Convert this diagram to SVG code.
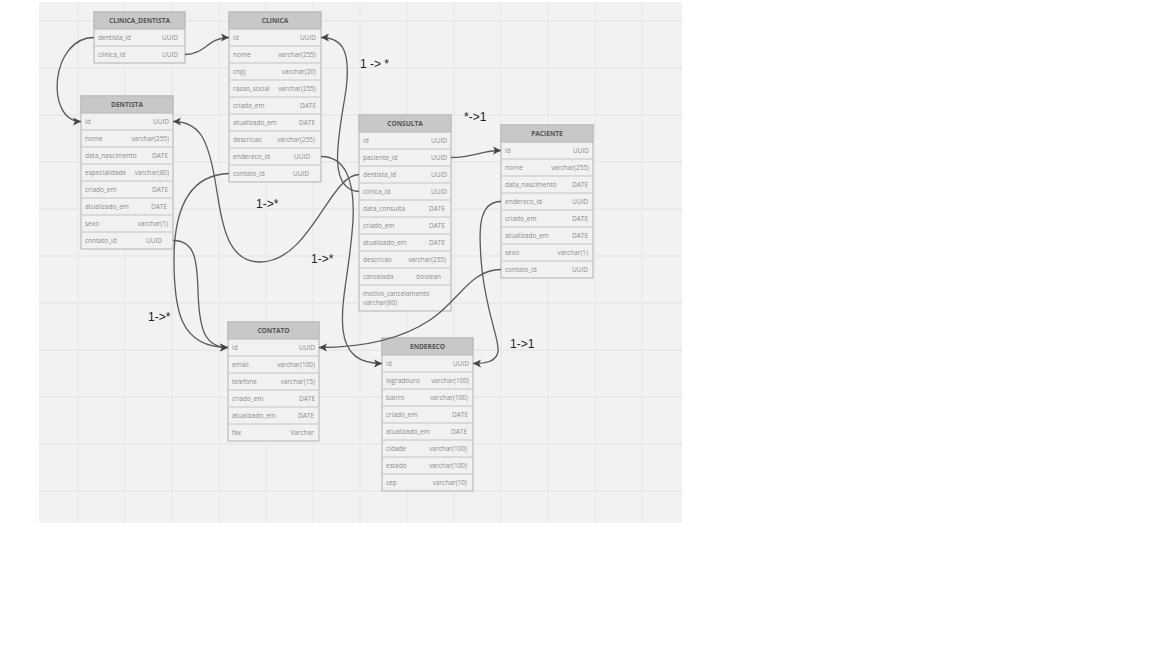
<svg xmlns="http://www.w3.org/2000/svg" width="1152" height="648" viewBox="0 0 1152 648">
<defs>
<style>
.bg{fill:#f2f2f2}
.grid{stroke:#e8e8e8;stroke-width:1.3;fill:none}
.body{fill:#f1f1f1;stroke:#bdbdbd;stroke-width:1.2}
.hdr{fill:#c8c8c8;stroke:#bdbdbd;stroke-width:1.2}
.sep{stroke:#d2d2d2;stroke-width:1.5}
.h{font-family:"Open Sans","Liberation Sans",sans-serif;font-size:6.6px;font-weight:bold;fill:#555;text-anchor:middle}
.c{font-family:"Open Sans","Liberation Sans",sans-serif;font-size:6.5px;fill:#8c8c8c}
.r{font-family:"Open Sans","Liberation Sans",sans-serif;font-size:6.5px;fill:#8c8c8c;text-anchor:end}
.lbl{font-family:"Liberation Sans","DejaVu Sans",sans-serif;font-size:12px;fill:#222}
.conn{fill:none;stroke:#5a5a5a;stroke-width:1.3}
</style>
<marker id="arr" markerUnits="userSpaceOnUse" markerWidth="10" markerHeight="10" viewBox="0 0 10 10" refX="9" refY="5" orient="auto">
<path d="M1,1 L9,5 L1,9 L3,5 Z" fill="#444"/>
</marker>
</defs>
<rect class="bg" x="39" y="2" width="643" height="521"/>
<path class="grid" d="M78,2V523M125,2V523M172,2V523M219,2V523M266,2V523M313,2V523M360,2V523M407,2V523M454,2V523M501,2V523M548,2V523M595,2V523M642,2V523M39,21H682M39,68H682M39,115H682M39,162H682M39,209H682M39,256H682M39,303H682M39,350H682M39,397H682M39,444H682M39,491H682"/>

<g id="clinica_dentista" transform="translate(94,12)">
<rect class="body" x="0" y="0" width="91" height="51"/>
<rect class="hdr" x="0" y="0" width="91" height="17"/>
<text class="h" x="45.5" y="11">CLINICA_DENTISTA</text>
<line class="sep" x1="1" y1="34" x2="90" y2="34"/>
<text class="c" x="4" y="28">dentista_id</text><text class="r" x="84" y="28">UUID</text>
<text class="c" x="4" y="45">clinica_id</text><text class="r" x="84" y="45">UUID</text>
</g>

<g id="clinica" transform="translate(229,12)">
<rect class="body" x="0" y="0" width="92" height="170"/>
<rect class="hdr" x="0" y="0" width="92" height="17"/>
<text class="h" x="46" y="11">CLINICA</text>
<path class="sep" d="M1,34H91M1,51H91M1,68H91M1,85H91M1,102H91M1,119H91M1,136H91M1,153H91"/>
<text class="c" x="4" y="28">id</text><text class="r" x="87" y="28">UUID</text>
<text class="c" x="4" y="45">nome</text><text class="r" x="87" y="45">varchar(255)</text>
<text class="c" x="4" y="62">cnpj</text><text class="r" x="87" y="62">varchar(20)</text>
<text class="c" x="4" y="79">razao_social</text><text class="r" x="87" y="79">varchar(255)</text>
<text class="c" x="4" y="96">criado_em</text><text class="r" x="87" y="96">DATE</text>
<text class="c" x="4" y="113">atualizado_em</text><text class="r" x="86" y="113">DATE</text>
<text class="c" x="4" y="130">descricao</text><text class="r" x="86" y="130">varchar(255)</text>
<text class="c" x="4" y="147">endereco_id</text><text class="r" x="81" y="147">UUID</text>
<text class="c" x="4" y="164">contato_id</text><text class="r" x="80" y="164">UUID</text>
</g>

<g id="dentista" transform="translate(81,96)">
<rect class="body" x="0" y="0" width="92" height="153"/>
<rect class="hdr" x="0" y="0" width="92" height="17"/>
<text class="h" x="46" y="11">DENTISTA</text>
<path class="sep" d="M1,34H91M1,51H91M1,68H91M1,85H91M1,102H91M1,119H91M1,136H91"/>
<text class="c" x="4" y="28">id</text><text class="r" x="88" y="28">UUID</text>
<text class="c" x="4" y="45">nome</text><text class="r" x="88" y="45">varchar(255)</text>
<text class="c" x="4" y="62">data_nascimento</text><text class="r" x="87" y="62">DATE</text>
<text class="c" x="4" y="79">especialidade</text><text class="r" x="88" y="79">varchar(80)</text>
<text class="c" x="4" y="96">criado_em</text><text class="r" x="87" y="96">DATE</text>
<text class="c" x="4" y="113">atualizado_em</text><text class="r" x="86" y="113">DATE</text>
<text class="c" x="4" y="130">sexo</text><text class="r" x="87" y="130">varchar(1)</text>
<text class="c" x="4" y="147">contato_id</text><text class="r" x="81" y="147">UUID</text>
</g>

<g id="consulta" transform="translate(359,115)">
<rect class="body" x="0" y="0" width="92" height="196"/>
<rect class="hdr" x="0" y="0" width="92" height="17"/>
<text class="h" x="46" y="11">CONSULTA</text>
<path class="sep" d="M1,34H91M1,51H91M1,68H91M1,85H91M1,102H91M1,119H91M1,136H91M1,153H91M1,170H91"/>
<text class="c" x="4" y="28">id</text><text class="r" x="88" y="28">UUID</text>
<text class="c" x="4" y="45">paciente_id</text><text class="r" x="88" y="45">UUID</text>
<text class="c" x="4" y="62">dentista_id</text><text class="r" x="88" y="62">UUID</text>
<text class="c" x="4" y="79">clinica_id</text><text class="r" x="88" y="79">UUID</text>
<text class="c" x="4" y="96">data_consulta</text><text class="r" x="86" y="96">DATE</text>
<text class="c" x="4" y="113">criado_em</text><text class="r" x="86" y="113">DATE</text>
<text class="c" x="4" y="130">atualizado_em</text><text class="r" x="86" y="130">DATE</text>
<text class="c" x="4" y="147">descricao</text><text class="r" x="87" y="147">varchar(255)</text>
<text class="c" x="4" y="164">cancelada</text><text class="r" x="82" y="164">boolean</text>
<text class="c" x="4" y="181">motivo_cancelamento</text>
<text class="c" x="4" y="190">varchar(80)</text>
</g>

<g id="paciente" transform="translate(501,125)">
<rect class="body" x="0" y="0" width="92" height="153"/>
<rect class="hdr" x="0" y="0" width="92" height="17"/>
<text class="h" x="46" y="11">PACIENTE</text>
<path class="sep" d="M1,34H91M1,51H91M1,68H91M1,85H91M1,102H91M1,119H91M1,136H91"/>
<text class="c" x="4" y="28">id</text><text class="r" x="88" y="28">UUID</text>
<text class="c" x="4" y="45">nome</text><text class="r" x="88" y="45">varchar(255)</text>
<text class="c" x="4" y="62">data_nascimento</text><text class="r" x="87" y="62">DATE</text>
<text class="c" x="4" y="79">endereco_id</text><text class="r" x="87" y="79">UUID</text>
<text class="c" x="4" y="96">criado_em</text><text class="r" x="87" y="96">DATE</text>
<text class="c" x="4" y="113">atualizado_em</text><text class="r" x="87" y="113">DATE</text>
<text class="c" x="4" y="130">sexo</text><text class="r" x="87" y="130">varchar(1)</text>
<text class="c" x="4" y="147">contato_id</text><text class="r" x="87" y="147">UUID</text>
</g>

<g id="contato" transform="translate(228,322)">
<rect class="body" x="0" y="0" width="91" height="119"/>
<rect class="hdr" x="0" y="0" width="91" height="17"/>
<text class="h" x="45.5" y="11">CONTATO</text>
<path class="sep" d="M1,34H90M1,51H90M1,68H90M1,85H90M1,102H90"/>
<text class="c" x="4" y="28">id</text><text class="r" x="87" y="28">UUID</text>
<text class="c" x="4" y="45">email</text><text class="r" x="87" y="45">varchar(100)</text>
<text class="c" x="4" y="62">telefone</text><text class="r" x="87" y="62">varchar(15)</text>
<text class="c" x="4" y="79">criado_em</text><text class="r" x="87" y="79">DATE</text>
<text class="c" x="4" y="96">atualizado_em</text><text class="r" x="86" y="96">DATE</text>
<text class="c" x="4" y="113">fax</text><text class="r" x="86" y="113">Varchar</text>
</g>

<g id="endereco" transform="translate(382,338)">
<rect class="body" x="0" y="0" width="91" height="153"/>
<rect class="hdr" x="0" y="0" width="91" height="17"/>
<text class="h" x="45.5" y="11">ENDERECO</text>
<path class="sep" d="M1,34H90M1,51H90M1,68H90M1,85H90M1,102H90M1,119H90M1,136H90"/>
<text class="c" x="4" y="28">id</text><text class="r" x="87" y="28">UUID</text>
<text class="c" x="4" y="45">logradouro</text><text class="r" x="87" y="45">varchar(100)</text>
<text class="c" x="4" y="62">bairro</text><text class="r" x="86" y="62">varchar(100)</text>
<text class="c" x="4" y="79">criado_em</text><text class="r" x="86" y="79">DATE</text>
<text class="c" x="4" y="96">atualizado_em</text><text class="r" x="85" y="96">DATE</text>
<text class="c" x="4" y="113">cidade</text><text class="r" x="85" y="113">varchar(100)</text>
<text class="c" x="4" y="130">estado</text><text class="r" x="85" y="130">varchar(100)</text>
<text class="c" x="4" y="147">cep</text><text class="r" x="85" y="147">varchar(10)</text>
</g>

<g id="connectors">
<path class="conn" marker-end="url(#arr)" d="M94,37.5 C50,37.5 45,121.5 81,121.5"/>
<path class="conn" marker-end="url(#arr)" d="M185,54.5 C205,54.5 208,37.5 229,37.5"/>
<path class="conn" marker-end="url(#arr)" d="M359,191.5 C325,190 340,130 346,90 C351,50 342,37.5 321,37.5"/>
<path class="conn" marker-end="url(#arr)" d="M359,174.5 C330,174.5 310,262 260,262 C225,262 222,220 215,180 C208,140 200,121.5 173,121.5"/>
<path class="conn" marker-end="url(#arr)" d="M229,173.5 C185,175 174,215 174,260 C174,310 180,347.5 228,347.5"/>
<path class="conn" marker-end="url(#arr)" d="M173,240.5 C195,240.5 197,260 198,290 C199,330 205,347.5 228,347.5"/>
<path class="conn" marker-end="url(#arr)" d="M501,269.5 C470,269.5 460,300 430,320 C400,340 360,347.5 319,347.5"/>
<path class="conn" marker-end="url(#arr)" d="M321,156.5 C345,156.5 355,180 353,220 C350,270 340,300 343,330 C346,355 360,363.5 382,363.5"/>
<path class="conn" marker-end="url(#arr)" d="M451,157.5 C475,157.5 480,150.5 501,150.5"/>
<path class="conn" marker-end="url(#arr)" d="M501,201.5 C478,201.5 478,230 482,270 C488,320 500,340 498,352 C496,362 485,363.5 473,363.5"/>
<text class="lbl" x="360" y="68">1 -&gt; *</text>
<text class="lbl" x="464" y="121">*-&gt;1</text>
<text class="lbl" x="256" y="208">1-&gt;*</text>
<text class="lbl" x="311" y="263">1-&gt;*</text>
<text class="lbl" x="148" y="321">1-&gt;*</text>
<text class="lbl" x="510" y="348">1-&gt;1</text>
</g>
</svg>
